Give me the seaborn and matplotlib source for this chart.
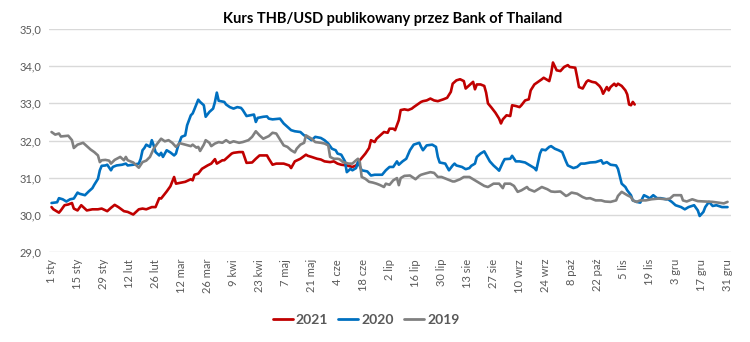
import matplotlib
matplotlib.use("Agg")
import matplotlib.pyplot as plt
import seaborn as sns
import pandas as pd
from matplotlib.lines import Line2D

# Day of year (0 = 1 Jan) and THB/USD rate for each year
days_2019 = [0, 2, 4, 5, 7, 9, 11, 12, 14, 17, 19, 21, 23, 25, 26, 27, 29, 31, 32, 34, 37, 39, 40, 41, 44, 47, 49, 51, 53, 55, 57, 59, 61, 63, 65, 67, 69,
             72, 75, 76, 78, 79, 80, 82, 83, 85, 86, 88, 90, 92, 94, 96, 98, 101, 103, 106, 108, 110, 112, 114, 117, 119, 121, 123, 125, 127, 129, 131, 132, 134, 136, 137, 140, 142,
             145, 147, 149, 150, 152, 154, 155, 157, 160, 162, 164, 165, 166, 167, 169, 171, 173, 175, 177, 179, 180, 182, 184, 186, 187, 188, 190, 193, 196, 198, 199, 201, 204, 206, 208, 210, 213, 216,
             217, 220, 222, 225, 227, 229, 231, 233, 235, 238, 241, 243, 244, 247, 249, 251, 253, 256, 257, 260, 262, 264, 267, 269, 271, 274, 277, 278, 280, 283, 286, 288,
             290, 293, 296, 298, 301, 304, 305, 307, 310, 312, 313, 315, 317, 320, 323, 327, 331, 333, 335, 339, 340, 342, 345, 348, 352, 356, 359, 362, 364]
rate_2019 = [32.23, 32.16, 32.19, 32.11, 32.12, 32.13, 32.01, 31.80, 31.89, 31.94, 31.85, 31.76, 31.69, 31.60, 31.42, 31.47, 31.48, 31.46, 31.38, 31.48, 31.56, 31.47, 31.56, 31.47, 31.41, 31.27, 31.42, 31.46, 31.56, 31.78, 31.92, 32.05, 31.98, 32.01, 31.94, 31.83, 31.93,
             31.89, 31.85, 31.89, 31.81, 31.83, 31.72, 31.89, 32.01, 31.94, 31.85, 31.92, 31.96, 31.94, 32.01, 31.94, 31.98, 31.94, 31.96, 32.01, 32.10, 32.25, 32.14, 32.05, 32.12, 32.21, 32.19, 32.03, 31.87, 31.83, 31.74, 31.68, 31.78, 31.89, 31.94, 32.14, 32.05, 31.96,
             31.94, 31.92, 31.87, 31.56, 31.51, 31.51, 31.50, 31.42, 31.38, 31.38, 31.47, 31.51, 31.42, 31.02, 30.97, 30.89, 30.87, 30.84, 30.80, 30.75, 30.84, 30.81, 30.93, 30.99, 30.80, 30.99, 31.05, 31.06, 30.96, 31.05, 31.08, 31.11, 31.15, 31.13, 31.02, 31.02, 30.96, 30.90,
             30.90, 30.96, 31.02, 31.02, 30.96, 30.90, 30.84, 30.78, 30.75, 30.84, 30.84, 30.72, 30.84, 30.84, 30.78, 30.62, 30.66, 30.75, 30.69, 30.63, 30.69, 30.75, 30.69, 30.63, 30.62, 30.63, 30.51, 30.53, 30.60, 30.57, 30.48, 30.44,
             30.45, 30.39, 30.39, 30.36, 30.35, 30.39, 30.51, 30.62, 30.53, 30.48, 30.39, 30.35, 30.39, 30.39, 30.42, 30.44, 30.42, 30.44, 30.53, 30.53, 30.39, 30.36, 30.42, 30.37, 30.36, 30.35, 30.33, 30.31, 30.35]

days_2020 = [0, 3, 4, 6, 8, 10, 12, 14, 15, 18, 20, 22, 23, 25, 26, 27, 29, 30, 32, 33, 35, 38, 40, 41, 44, 47, 48, 49, 50, 51, 53, 54, 55, 56, 58, 59, 60, 62, 64, 66, 67, 68, 70,
             72, 73, 75, 76, 77, 79, 80, 82, 83, 85, 87, 88, 89, 90, 93, 94, 96, 98, 100, 102, 103, 105, 107, 109, 110, 111, 114, 116, 117, 119, 123, 125, 127, 129, 131, 134, 136, 137, 140, 142,
             145, 147, 149, 151, 153, 154, 156, 158, 159, 161, 162, 164, 165, 167, 170, 172, 174, 178, 180, 182, 184, 186, 187, 189, 191, 193, 195, 198, 199, 200, 202, 205, 207, 208, 209, 212, 214, 216,
             217, 218, 221, 223, 225, 226, 228, 229, 231, 233, 234, 236, 238, 240, 241, 243, 244, 247, 248, 250, 252, 255, 257, 260, 261, 263, 264, 266, 268, 269, 271, 273, 275, 277, 278, 281, 283, 285, 287,
             290, 293, 296, 297, 299, 301, 304, 305, 307, 309, 310, 312, 313, 315, 317, 319, 321, 322, 324, 326, 328, 331, 332, 334, 336, 339, 341, 343, 346, 348, 349, 351, 352, 354, 356, 358, 361, 364]
rate_2020 = [30.32, 30.34, 30.45, 30.42, 30.36, 30.42, 30.44, 30.60, 30.57, 30.53, 30.63, 30.72, 30.81, 30.97, 31.20, 31.32, 31.33, 31.35, 31.20, 31.29, 31.33, 31.35, 31.38, 31.33, 31.35, 31.38, 31.51, 31.74, 31.80, 31.89, 31.83, 32.01, 31.87, 31.69, 31.60, 31.67, 31.56, 31.74, 31.68, 31.60, 31.65, 31.83, 32.10,
             32.14, 32.41, 32.68, 32.73, 32.85, 33.10, 33.04, 32.95, 32.64, 32.77, 32.86, 33.04, 33.29, 33.07, 33.04, 32.97, 32.90, 32.86, 32.90, 32.88, 32.82, 32.66, 32.68, 32.70, 32.50, 32.61, 32.64, 32.65, 32.59, 32.57, 32.59, 32.46, 32.37, 32.28, 32.25, 32.23, 32.14, 32.12, 32.01, 32.10,
             32.07, 32.01, 31.92, 31.78, 31.74, 31.65, 31.62, 31.44, 31.15, 31.24, 31.20, 31.26, 31.42, 31.20, 31.17, 31.06, 31.08, 31.08, 31.20, 31.29, 31.29, 31.44, 31.35, 31.44, 31.51, 31.74, 31.89, 31.94, 31.83, 31.74, 31.87, 31.89, 31.83, 31.56, 31.41, 31.38, 31.20, 31.33,
             31.38, 31.33, 31.29, 31.23, 31.26, 31.32, 31.38, 31.56, 31.65, 31.71, 31.62, 31.44, 31.33, 31.24, 31.19, 31.41, 31.50, 31.51, 31.59, 31.44, 31.44, 31.41, 31.35, 31.26, 31.20, 31.65, 31.76, 31.74, 31.83, 31.85, 31.78, 31.74, 31.69, 31.44, 31.33, 31.26, 31.29, 31.38, 31.38,
             31.41, 31.42, 31.47, 31.38, 31.42, 31.35, 31.33, 31.24, 30.84, 30.75, 30.66, 30.53, 30.39, 30.35, 30.33, 30.53, 30.48, 30.44, 30.53, 30.45, 30.45, 30.42, 30.42, 30.35, 30.26, 30.21, 30.15, 30.21, 30.26, 30.12, 29.97, 30.08, 30.21, 30.35, 30.24, 30.26, 30.21, 30.21]

days_2021 = [0, 1, 4, 5, 7, 9, 11, 12, 14, 16, 19, 22, 25, 27, 30, 32, 34, 36, 39, 41, 44, 47, 49, 51, 54, 56, 58, 59, 62, 64, 66, 67, 69,
             72, 75, 76, 77, 79, 81, 84, 86, 88, 89, 92, 93, 95, 97, 98, 101, 103, 105, 108, 110, 112, 116, 117, 119, 121, 125, 128, 129, 131, 134, 137, 138, 140, 143,
             145, 147, 150, 152, 154, 156, 159, 162, 164, 166, 169, 171, 172, 174, 175, 177, 179, 181, 182, 184, 185, 187, 188, 190, 192, 194, 195, 197, 199, 200, 202, 204, 206, 208, 211, 213, 215,
             216, 218, 220, 222, 223, 225, 227, 228, 229, 231, 233, 234, 235, 237, 239, 241, 242, 243, 245, 247, 248, 250, 252, 253, 255, 257, 258, 260, 262, 264, 265, 268, 269, 270, 272, 274, 276, 278, 279, 282, 283, 284, 286, 288,
             289, 291, 293, 295, 296, 297, 299, 300, 301, 303, 304, 305, 307, 309, 310, 311, 312, 313, 314]
rate_2021 = [30.21, 30.15, 30.06, 30.12, 30.26, 30.28, 30.32, 30.17, 30.12, 30.26, 30.12, 30.15, 30.15, 30.17, 30.10, 30.19, 30.27, 30.21, 30.10, 30.08, 30.01, 30.15, 30.17, 30.15, 30.21, 30.21, 30.45, 30.44, 30.63, 30.77, 31.02, 30.84, 30.86,
             30.89, 30.96, 30.93, 31.08, 31.11, 31.24, 31.33, 31.38, 31.50, 31.38, 31.47, 31.47, 31.56, 31.65, 31.67, 31.69, 31.69, 31.40, 31.41, 31.51, 31.60, 31.60, 31.51, 31.35, 31.38, 31.38, 31.33, 31.26, 31.44, 31.51, 31.62, 31.59, 31.56, 31.51,
             31.49, 31.44, 31.42, 31.44, 31.38, 31.35, 31.33, 31.29, 31.33, 31.47, 31.65, 31.80, 32.01, 31.96, 32.05, 32.14, 32.23, 32.21, 32.32, 32.32, 32.28, 32.55, 32.82, 32.84, 32.82, 32.86, 32.90, 32.97, 33.04, 33.06, 33.08, 33.13, 33.08, 33.06, 33.11, 33.15, 33.31,
             33.53, 33.62, 33.65, 33.60, 33.40, 33.49, 33.58, 33.38, 33.51, 33.51, 33.47, 33.29, 33.00, 32.88, 32.75, 32.59, 32.46, 32.57, 32.68, 32.66, 32.95, 32.93, 32.90, 32.95, 33.08, 33.11, 33.35, 33.51, 33.58, 33.65, 33.69, 33.60, 33.80, 34.10, 33.89, 33.87, 33.98, 34.03, 33.98, 33.96, 33.71, 33.44, 33.40, 33.58,
             33.62, 33.58, 33.56, 33.47, 33.40, 33.26, 33.44, 33.35, 33.44, 33.53, 33.47, 33.53, 33.47, 33.35, 33.24, 32.97, 32.95, 33.04, 32.97]

years = ["2021", "2020", "2019"]
colors = ["#c00000", "#0070c0", "#808080"]

tick_days = list(range(0, 365, 14))
tick_labels = ["1 sty", "15 sty", "29 sty", "12 lut", "26 lut", "12 mar", "26 mar", "9 kwi",
               "23 kwi", "7 maj", "21 maj", "4 cze", "18 cze", "2 lip", "16 lip", "30 lip",
               "13 sie", "27 sie", "10 wrz", "24 wrz", "8 paź", "22 paź", "5 lis", "19 lis",
               "3 gru", "17 gru", "31 gru"]
y_ticks = [29.0, 30.0, 31.0, 32.0, 33.0, 34.0, 35.0]

df = pd.concat([
    pd.DataFrame({"dzien": days_2021, "kurs": rate_2021, "rok": "2021"}),
    pd.DataFrame({"dzien": days_2020, "kurs": rate_2020, "rok": "2020"}),
    pd.DataFrame({"dzien": days_2019, "kurs": rate_2019, "rok": "2019"}),
], ignore_index=True)

sns.set_theme(style="white")
plt.rcParams["font.family"] = ["Lato", "DejaVu Sans"]

fig = plt.figure(figsize=(7.5, 3.42), dpi=100)
ax = fig.add_axes([0.065, 0.263, 0.91, 0.652])

sns.lineplot(data=df, x="dzien", y="kurs", hue="rok", hue_order=years,
             palette=dict(zip(years, colors)), linewidth=1.9, ax=ax,
             legend=False, estimator=None, sort=True)

ax.set_xlim(-1.5, 366)
ax.set_ylim(29.0, 35.0)
ax.set_yticks(y_ticks)
ax.set_yticklabels([f"{v:.1f}".replace(".", ",") for v in y_ticks],
                   fontsize=8, color="#595959")
ax.set_xticks(tick_days)
ax.set_xticklabels(tick_labels, rotation=90, fontsize=8, color="#595959")
ax.tick_params(axis="both", length=0, pad=5)
ax.grid(axis="y", color="#d9d9d9", linewidth=1.0)
ax.grid(axis="x", visible=False)
for s in ax.spines.values():
    s.set_visible(False)
ax.set_xlabel("")
ax.set_ylabel("")

fig.text(0.523, 0.945, "Kurs THB/USD publikowany przez Bank of Thailand",
         ha="center", va="center", fontsize=10.5, fontweight="bold", color="#000000")

handles = [Line2D([0], [0], color=c, lw=2.0) for c in colors]
leg = fig.legend(handles, years, loc="center", bbox_to_anchor=(0.488, 0.065), ncol=3,
                 frameon=False, handlelength=1.45, handletextpad=0.2, columnspacing=0.75,
                 prop={"weight": "bold", "size": 10})
for t in leg.get_texts():
    t.set_color("#595959")

fig.savefig("out.png", dpi=100)
